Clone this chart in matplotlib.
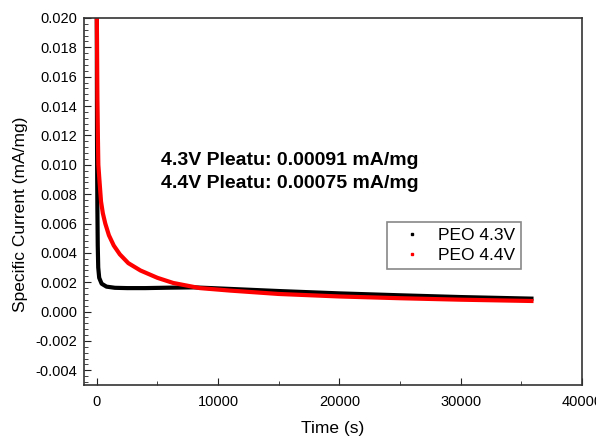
import matplotlib
matplotlib.use("Agg")
from matplotlib import pyplot as plt
from matplotlib.ticker import MultipleLocator, AutoMinorLocator

plt.rcParams['font.family'] = ['Liberation Sans', 'DejaVu Sans']

# PEO 4.3V (black)
t43 = [0, 10, 20, 35, 50, 80, 120, 200, 400, 800, 1500, 2500, 4000,
       6000, 8000, 10000, 15000, 20000, 25000, 30000, 36000]
i43 = [0.0205, 0.016, 0.012, 0.009, 0.007, 0.0045, 0.0030, 0.0023, 0.0019,
       0.0017, 0.00162, 0.00160, 0.00160, 0.00163, 0.00165, 0.00158,
       0.00140, 0.00124, 0.00111, 0.00099, 0.00088]

# PEO 4.4V (red)
t44 = [0, 20, 50, 100, 130, 215, 350, 500, 700, 1000, 1400, 1900, 2600,
       3600, 5000, 6300, 8500, 11000, 15000, 20000, 25000, 30000, 36000]
i44 = [0.0205, 0.0185, 0.0145, 0.0115, 0.0100, 0.0090, 0.0075, 0.0067,
       0.0060, 0.0052, 0.0045, 0.0039, 0.0033, 0.0028, 0.0023, 0.00195,
       0.00160, 0.00143, 0.00120, 0.00103, 0.00091, 0.00081, 0.00072]

notes = ["4.3V Pleatu: 0.00091 mA/mg", "4.4V Pleatu: 0.00075 mA/mg"]

fig = plt.figure(figsize=(5.96, 4.38), dpi=100)
ax = fig.add_axes([0.141, 0.121, 0.8356, 0.838])

ax.plot(t43, i43, color='black', lw=3, solid_capstyle='butt')
ax.plot(t44, i44, color='red', lw=3, solid_capstyle='butt')

# legend proxies (small dots like the original)
ax.plot([], [], 's', ms=2, color='black', label='PEO 4.3V')
ax.plot([], [], 's', ms=2, color='red', label='PEO 4.4V')

ax.set_xlim(-1050, 40000)
ax.set_ylim(-0.005, 0.020)
ax.xaxis.set_major_locator(MultipleLocator(10000))
ax.xaxis.set_minor_locator(AutoMinorLocator(2))
ax.yaxis.set_major_locator(MultipleLocator(0.002))
ax.yaxis.set_minor_locator(AutoMinorLocator(5))
ax.yaxis.set_major_formatter(matplotlib.ticker.FormatStrFormatter('%.3f'))

ax.tick_params(which='both', direction='in', top=False, right=False,
               labelsize=10.5, color='#222222')
ax.tick_params(axis='x', which='major', length=5, pad=7)
ax.tick_params(axis='x', which='minor', length=3)
ax.tick_params(axis='y', which='major', length=5, pad=5)
ax.tick_params(axis='y', which='minor', length=3)
for s in ax.spines.values():
    s.set_color('#333333')
    s.set_linewidth(1.2)

ax.set_xlabel('Time (s)', fontsize=12.5)
ax.set_ylabel('Specific Current (mA/mg)', fontsize=12.5)
ax.xaxis.set_label_coords(0.5, -0.098)
ax.yaxis.set_label_coords(-0.113, 0.466)

ax.text(0.155, 0.613, notes[0], transform=ax.transAxes, fontsize=14,
        fontweight='bold', va='center')
ax.text(0.155, 0.550, notes[1], transform=ax.transAxes, fontsize=14,
        fontweight='bold', va='center')

leg = ax.legend(loc='upper left', bbox_to_anchor=(0.608, 0.444), fontsize=12.5,
                frameon=True, fancybox=False, edgecolor='#888888',
                framealpha=1, handlelength=2.2, handletextpad=0.4,
                borderpad=0.35, labelspacing=0.25, borderaxespad=0)
leg.get_frame().set_linewidth(1.2)

fig.savefig('out.png', dpi=100)
